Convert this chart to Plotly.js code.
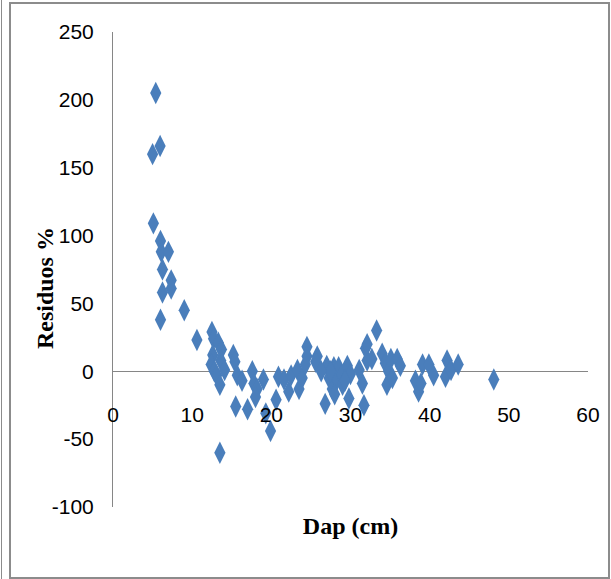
<!DOCTYPE html>
<html>
<head>
<meta charset="utf-8">
<script src="https://cdn.plot.ly/plotly-3.0.1.min.js"></script>
<style>
  html, body { margin: 0; padding: 0; background: #ffffff; }
  #wrap { position: relative; width: 611px; height: 579px; overflow: hidden; }
  #chart { position: absolute; left: 0; top: 0; width: 611px; height: 579px; }
  #frame { position: absolute; left: 9px; top: 2px; width: 597px; height: 573px; border: 2px solid #8c8c8c; pointer-events: none; }
  #frame2 { position: absolute; left: 1px; top: 0px; width: 1px; height: 579px; background: #8c8c8c; pointer-events: none; }
</style>
</head>
<body>
<div id="wrap">
  <div id="chart"></div>
  <div id="frame"></div>
  <div id="frame2"></div>
</div>
<script>
// Dap (cm)
const dap = [
  5.4, 5.95, 5.0, 5.1, 6.0, 6.1, 7.0, 6.25, 7.35, 7.35,
  6.25, 9.0, 6.0, 10.6, 12.5, 12.7, 13.3, 13.7, 12.6, 12.4,
  12.8, 13.1, 13.6, 13.5, 14.1, 13.5, 15.2, 15.4, 15.7, 16.3,
  15.5, 17.0, 17.6, 17.8, 18.2, 19.0, 18.0, 19.3, 19.9, 20.9,
  20.6, 21.6, 22.2, 22.5, 23.3, 23.5, 23.9, 24.5, 24.5, 24.3,
  25.8, 25.6, 27.0, 27.3, 27.9, 27.7, 26.8, 28.3, 28.5, 28.9,
  29.6, 30.0, 29.0, 29.8, 31.7, 31.5, 31.1, 31.9, 32.1, 33.3,
  32.7, 32.1, 34.0, 34.4, 34.8, 34.6, 35.1, 35.9, 35.3, 36.3,
  38.2, 38.6, 38.9, 39.1, 39.9, 40.5, 42.2, 42.0, 42.7, 43.6,
  48.1, 27.5, 29.3, 28.0, 26.3
];
// Residuos %
const residuos = [
  205, 166, 160, 109, 96, 88, 88, 75, 67, 61,
  58, 45, 38, 23, 29, 24, 21, 16, 12, 5,
  0, -3, 8, -10, 1, -60, 12, 7, -3, -7,
  -26, -28, 0, -9, -13, -6, -19, -31, -44, -4,
  -21, -6, -15, -3, 1, -13, -5, 18, 11, 5,
  11, 7, 4, -5, 3, -13, -24, -6, 3, -3,
  4, -2, -10, -20, -25, -9, 1, 17, 8, 30,
  9, 20, 13, 6, 0, -10, 9, 9, -5, 4,
  -7, -15, -9, 5, 5, -3, 8, -4, 1, 5,
  -6, 0, -7, -17, 0
];
const xTicks = [0, 10, 20, 30, 40, 50, 60];
const yTicks = [-100, -50, 0, 50, 100, 150, 200, 250];
const xTitle = "Dap (cm)";
const yTitle = "Residuos %";

const tickFont = { family: "Liberation Sans Narrow, Arial Narrow, Liberation Sans, sans-serif", size: 21, color: "#000000" };
const titleFont = { family: "Liberation Serif, Times New Roman, serif", size: 24, color: "#000000", weight: "bold" };

const trace = {
  type: "scatter",
  mode: "markers",
  x: dap,
  y: residuos,
  marker: { symbol: "diamond-tall", size: 16, color: "#4a7ebb", line: { width: 0 } },
  cliponaxis: false,
  hoverinfo: "skip"
};

const layout = {
  width: 611,
  height: 579,
  margin: { l: 113, r: 23, t: 32, b: 72 },
  paper_bgcolor: "#ffffff",
  plot_bgcolor: "#ffffff",
  showlegend: false,
  xaxis: {
    range: [0, 60],
    tickvals: xTicks,
    ticktext: xTicks.map(String),
    showgrid: false,
    zeroline: false,
    showline: false,
    ticks: "",
    tickfont: tickFont,
    anchor: "free",
    position: 0.225,
    automargin: false,
    title: { text: xTitle, font: titleFont, standoff: 92 },
    fixedrange: true
  },
  yaxis: {
    range: [-100, 250],
    tickvals: yTicks,
    ticktext: yTicks.map(String),
    showgrid: false,
    zeroline: true,
    zerolinecolor: "#868686",
    zerolinewidth: 1,
    showline: true,
    linecolor: "#868686",
    linewidth: 1,
    ticks: "",
    ticklabelstandoff: 14,
    tickfont: tickFont,
    automargin: false,
    title: { text: "" },
    fixedrange: true
  },
  annotations: [{
    text: yTitle,
    xref: "paper", yref: "paper",
    x: -0.143, y: 0.461,
    xanchor: "center", yanchor: "middle",
    textangle: -90,
    showarrow: false,
    font: titleFont
  }]
};

Plotly.newPlot("chart", [trace], layout, { displayModeBar: false, staticPlot: true });
</script>
</body>
</html>
